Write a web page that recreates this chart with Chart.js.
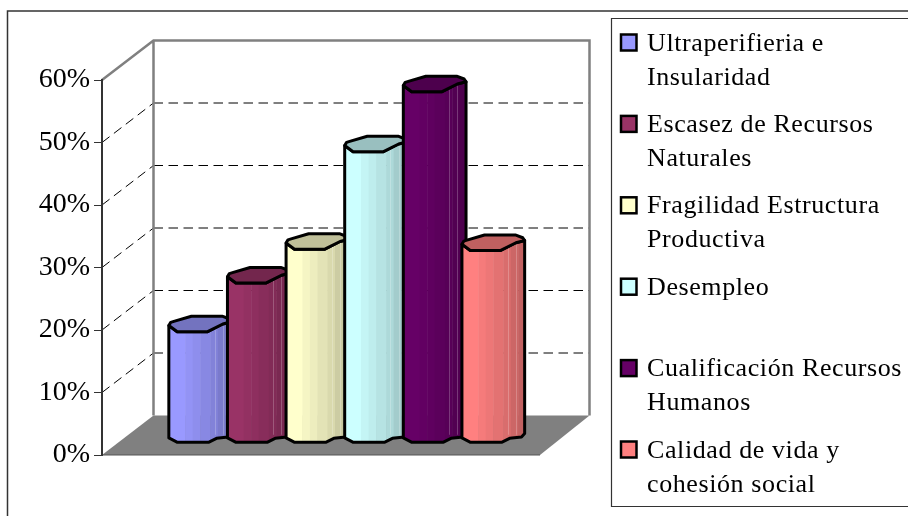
<!DOCTYPE html>
<html>
<head>
<meta charset="utf-8">
<style>
html, body { margin: 0; padding: 0; background: #fff; overflow: hidden; }
canvas { display: block; }
</style>
<script src="https://cdn.jsdelivr.net/npm/chart.js@4/dist/chart.umd.min.js"></script>
</head>
<body>
<canvas id="chart" width="908" height="516"></canvas>
<script>
const categories = [''];
const seriesNames = [
    ['Ultraperifieria e', 'Insularidad'],
    ['Escasez de Recursos', 'Naturales'],
    ['Fragilidad Estructura', 'Productiva'],
    ['Desempleo'],
    ['Cualificación Recursos', 'Humanos'],
    ['Calidad de vida y', 'cohesión social']
];
const seriesValues = [17.8, 25.6, 31, 46.6, 56.2, 30.8];
const seriesColors = ['#9999FF', '#993366', '#FFFFCC', '#CCFFFF', '#660066', '#FF8080'];
const yTicks = [0, 10, 20, 30, 40, 50, 60];

// depth of the 3d box, back wall is offset by this from the front plane
const depthX = 51.5;
const depthY = -39.5;
const fontFamily = '"Liberation Serif", "Times New Roman", serif';

function shade(hex, f) {
    const n = parseInt(hex.slice(1), 16);
    const r = Math.round((n >> 16) * f);
    const g = Math.round(((n >> 8) & 255) * f);
    const b = Math.round((n & 255) * f);
    return `rgb(${r},${g},${b})`;
}

const box3d = {
    id: 'box3d',
    beforeDraw(chart) {
        const { ctx, chartArea: a, scales: { y } } = chart;
        ctx.save();
        ctx.fillStyle = '#fff';
        ctx.fillRect(0, 0, chart.width, chart.height);

        // outer chart frame, runs off the picture
        ctx.strokeStyle = '#333';
        ctx.lineWidth = 1.5;
        ctx.beginPath();
        ctx.moveTo(7.5, 516);
        ctx.lineTo(7.5, 11);
        ctx.lineTo(908, 11);
        ctx.stroke();

        // floor
        ctx.fillStyle = '#808080';
        ctx.beginPath();
        ctx.moveTo(a.left, a.bottom);
        ctx.lineTo(a.left + depthX, a.bottom + depthY);
        ctx.lineTo(a.right + depthX - 2, a.bottom + depthY);
        ctx.lineTo(a.right, a.bottom);
        ctx.closePath();
        ctx.fill();

        // gridlines on side and back wall
        ctx.strokeStyle = '#000';
        ctx.lineWidth = 1;
        ctx.setLineDash([9.5, 5.5]);
        yTicks.slice(1, -1).forEach(v => {
            const py = y.getPixelForValue(v);
            ctx.beginPath();
            ctx.moveTo(a.left, py);
            ctx.lineTo(a.left + depthX, py + depthY);
            ctx.moveTo(a.left + depthX, py + depthY);
            ctx.lineTo(a.right + depthX - 2, py + depthY);
            ctx.stroke();
        });
        ctx.setLineDash([]);

        // wall frame
        ctx.strokeStyle = '#808080';
        ctx.lineWidth = 2.5;
        ctx.beginPath();
        ctx.moveTo(a.left, a.top);
        ctx.lineTo(a.left + depthX, a.top + depthY);
        ctx.lineTo(a.right + depthX - 2, a.top + depthY);
        ctx.lineTo(a.right + depthX - 2, a.bottom + depthY);
        ctx.moveTo(a.left + depthX, a.top + depthY);
        ctx.lineTo(a.left + depthX, a.bottom + depthY);
        ctx.stroke();

        // front edge of floor
        ctx.strokeStyle = '#555';
        ctx.lineWidth = 1;
        ctx.beginPath();
        ctx.moveTo(a.left, a.bottom);
        ctx.lineTo(a.right, a.bottom);
        ctx.stroke();
        ctx.restore();
    },
    // bars are drawn as cylinders below, in dataset order
    beforeDatasetDraw() {
        return false;
    },
    afterDatasetsDraw(chart) {
        chart.data.datasets.forEach((ds, i) => {
            const bar = chart.getDatasetMeta(i).data[0];
            drawCylinder(chart.ctx, bar, ds);
        });
    },
    afterDraw(chart) {
        drawLegend(chart);
    }
};

function drawCylinder(ctx, bar, ds) {
    const w = bar.width;
    const x0 = bar.x - w / 2 + depthX / 2;
    const top = bar.y + depthY / 2;
    const base = bar.base + depthY / 2;
    const color = ds.backgroundColor;

    // front half of the rim, top then bottom
    const rimTop = [[0, 1.5], [0.134, 7.8], [0.61, 7.8], [0.86, 0], [1, -2.2]];
    const rimBase = [[0, 3.2], [0.13, 7.4], [0.64, 7.4], [0.76, 3.6], [0.95, 2.2], [1, -1.2]];
    const capBack = [[0.97, -5], [0.85, -7.8], [0.36, -7.8], [0.08, -2.6], [0.03, -1.6]];

    const bodyPath = () => {
        ctx.beginPath();
        rimTop.forEach(([fx, dy], k) => {
            if (k === 0) ctx.moveTo(x0 + fx * w, top + dy);
            else ctx.lineTo(x0 + fx * w, top + dy);
        });
        rimBase.slice().reverse().forEach(([fx, dy]) => ctx.lineTo(x0 + fx * w, base + dy));
        ctx.closePath();
    };

    ctx.save();
    ctx.lineJoin = 'round';

    // vertical shading bands
    ctx.save();
    bodyPath();
    ctx.clip();
    const bands = [[0, 0.26, 1], [0.26, 0.38, 0.96], [0.38, 0.5, 0.93], [0.5, 0.66, 0.89], [0.66, 0.78, 0.85], [0.78, 0.9, 0.8], [0.9, 1.01, 0.76]];
    bands.forEach(([a, b, f]) => {
        ctx.fillStyle = shade(color, f);
        ctx.fillRect(x0 + a * w, top - 12, (b - a) * w + 0.5, base - top + 24);
    });
    // thin seams on the shaded side
    ctx.strokeStyle = 'rgba(255,255,255,0.22)';
    ctx.lineWidth = 1;
    [0.73, 0.86].forEach(fx => {
        ctx.beginPath();
        ctx.moveTo(Math.round(x0 + fx * w) + 0.5, top);
        ctx.lineTo(Math.round(x0 + fx * w) + 0.5, base);
        ctx.stroke();
    });
    ctx.restore();

    ctx.strokeStyle = ds.borderColor;
    ctx.lineWidth = ds.borderWidth;
    bodyPath();
    ctx.stroke();

    // cap
    ctx.beginPath();
    rimTop.concat(capBack).forEach(([fx, dy], k) => {
        if (k === 0) ctx.moveTo(x0 + fx * w, top + dy);
        else ctx.lineTo(x0 + fx * w, top + dy);
    });
    ctx.closePath();
    ctx.fillStyle = shade(color, 0.75);
    ctx.fill();
    ctx.stroke();
    ctx.restore();
}

function drawLegend(chart) {
    const ctx = chart.ctx;
    ctx.save();
    ctx.fillStyle = '#fff';
    ctx.strokeStyle = '#333';
    ctx.lineWidth = 1.2;
    ctx.beginPath();
    ctx.moveTo(920, 18.5);
    ctx.lineTo(611.5, 18.5);
    ctx.lineTo(611.5, 506.5);
    ctx.lineTo(920, 506.5);
    ctx.fill();
    ctx.stroke();

    ctx.textBaseline = 'alphabetic';
    ctx.textAlign = 'left';
    ctx.font = '26px ' + fontFamily;
    ctx.letterSpacing = '0.6px';
    seriesNames.forEach((lines, i) => {
        const top = 34.5 + i * 81.4;
        ctx.fillStyle = seriesColors[i];
        ctx.strokeStyle = '#000';
        ctx.lineWidth = 2.5;
        ctx.fillRect(621, top, 15.5, 16);
        ctx.strokeRect(621, top, 15.5, 16);
        ctx.fillStyle = '#000';
        lines.forEach((line, k) => ctx.fillText(line, 647, top + 16 + k * 34));
    });
    ctx.restore();
}

new Chart(document.getElementById('chart'), {
    type: 'bar',
    data: {
        labels: categories,
        datasets: seriesNames.map((name, i) => ({
            label: name.join(' '),
            data: [seriesValues[i]],
            backgroundColor: seriesColors[i],
            borderColor: '#000',
            borderWidth: 3
        }))
    },
    options: {
        responsive: false,
        animation: false,
        barPercentage: 1.07,
        categoryPercentage: 0.803,
        layout: { padding: { top: 80, right: 368, bottom: 61, left: 0 } },
        plugins: { legend: { display: false }, tooltip: { enabled: false } },
        scales: {
            x: { display: false },
            y: {
                min: 0,
                max: 60,
                afterFit(scale) { scale.width = 102; },
                afterBuildTicks(scale) { scale.ticks = yTicks.map(v => ({ value: v })); },
                border: { color: '#333', width: 2 },
                grid: { drawOnChartArea: false, tickLength: 8, color: '#333' },
                ticks: {
                    color: '#000',
                    padding: 4,
                    font: { family: fontFamily, size: 28 },
                    callback: v => v + '%'
                }
            }
        }
    },
    plugins: [box3d]
});
</script>
</body>
</html>
